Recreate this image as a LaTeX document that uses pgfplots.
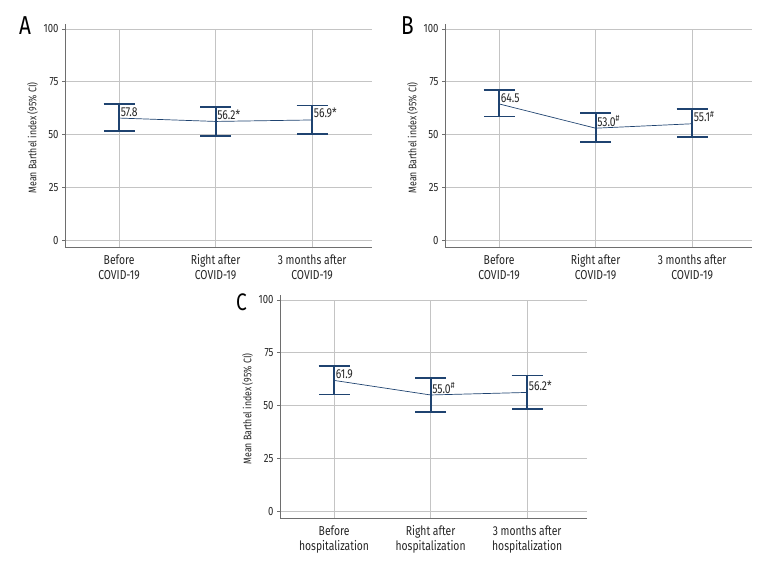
\documentclass[border=0pt]{standalone}
\usepackage{pgfplots}
\pgfplotsset{compat=1.18}
\usepackage{pgfplotstable}
\usepackage{fontspec}
\setmainfont{Fira Sans}[FakeStretch=0.8]
\definecolor{navy}{HTML}{1F4370}
\definecolor{gridc}{HTML}{C4C4C4}
\definecolor{spine}{HTML}{6E6E6E}

\pgfplotstableread{
x y ep em lab
0 57.8 6.6 6.2 57.8
1 56.2 6.8 6.8 56.2*
2 56.9 6.9 6.7 56.9*
}\dataA
\pgfplotstableread{
x y ep em lab
0 64.5 6.6 6.0 64.5
1 53.0 7.2 6.7 53.0\textsuperscript{\#}
2 55.1 7.0 6.3 55.1\textsuperscript{\#}
}\dataB
\pgfplotstableread{
x y ep em lab
0 61.9 6.9 6.7 61.9
1 55.0 8.1 8.0 55.0\textsuperscript{\#}
2 56.2 8.0 7.8 56.2*
}\dataC

\pgfplotsset{panel/.style={
  scale only axis, width=307bp, height=218bp,
  xmin=-0.56, xmax=2.62, ymin=-3.3, ymax=100,
  axis x line*=bottom, axis y line*=left,
  axis line style={spine, line width=1pt},
  y axis line style={shorten >=-5bp},
  xtick={0,1,2}, ytick={0,25,50,75,100},
  grid=major, major grid style={gridc, line width=0.9pt},
  tick align=outside, major tick length=3bp,
  ytick style={spine, line width=0.8pt},
  xtick style={draw=none},
  yticklabel style={font=\fontsize{12}{14}\selectfont, text=black!85},
  xticklabel style={font=\fontsize{13}{15}\selectfont, text=black!85, align=center, yshift=-1bp},
  /pgf/number format/assume math mode=true,
  every axis y label/.style={at={(axis description cs:-0.106,0.5)}, rotate=90, anchor=center, font=\fontsize{11}{13}\selectfont, text=black!85},
  ylabel={Mean Barthel index (95\% CI)},
  clip=false,
}}
\pgfplotsset{series/.style={
  navy, line width=0.7pt, mark=none,
  error bars/.cd, y dir=both, y explicit,
  error bar style={line width=1.8pt, navy},
  error mark options={rotate=90, mark size=15.5bp, line width=1.8pt, navy},
}}
\pgfplotsset{labs/.style={
  draw=none, mark=none, nodes near coords, point meta=explicit symbolic,
  every node near coord/.append style={anchor=south west, inner sep=1.5bp, font=\fontsize{13}{15}\selectfont, text=black!85},
}}

\begin{document}
\begin{tikzpicture}
\useasboundingbox (0,0) rectangle (780bp,-576bp);
\begin{axis}[panel, at={(65bp,-247bp)}, anchor=south west,
  xticklabels={Before\\COVID-19, Right after\\COVID-19, 3 months after\\COVID-19}]
\addplot[series] table[x=x, y=y, y error plus=ep, y error minus=em] {\dataA};
\addplot[labs] table[x=x, y=y, meta=lab] {\dataA};
\end{axis}
\begin{axis}[panel, at={(445bp,-247bp)}, anchor=south west,
  xticklabels={Before\\COVID-19, Right after\\COVID-19, 3 months after\\COVID-19}]
\addplot[series] table[x=x, y=y, y error plus=ep, y error minus=em] {\dataB};
\addplot[labs] table[x=x, y=y, meta=lab] {\dataB};
\end{axis}
\begin{axis}[panel, at={(280bp,-518bp)}, anchor=south west,
  xticklabels={Before\\hospitalization, Right after\\hospitalization, 3 months after\\hospitalization}]
\addplot[series] table[x=x, y=y, y error plus=ep, y error minus=em] {\dataC};
\addplot[labs] table[x=x, y=y, meta=lab] {\dataC};
\end{axis}
\node[anchor=base west, inner sep=0, font=\fontsize{26}{26}\selectfont] at (19bp,-34bp) {A};
\node[anchor=base west, inner sep=0, font=\fontsize{26}{26}\selectfont] at (401bp,-34bp) {B};
\node[anchor=base west, inner sep=0, font=\fontsize{24}{24}\selectfont] at (236bp,-310bp) {C};
\end{tikzpicture}
\end{document}
